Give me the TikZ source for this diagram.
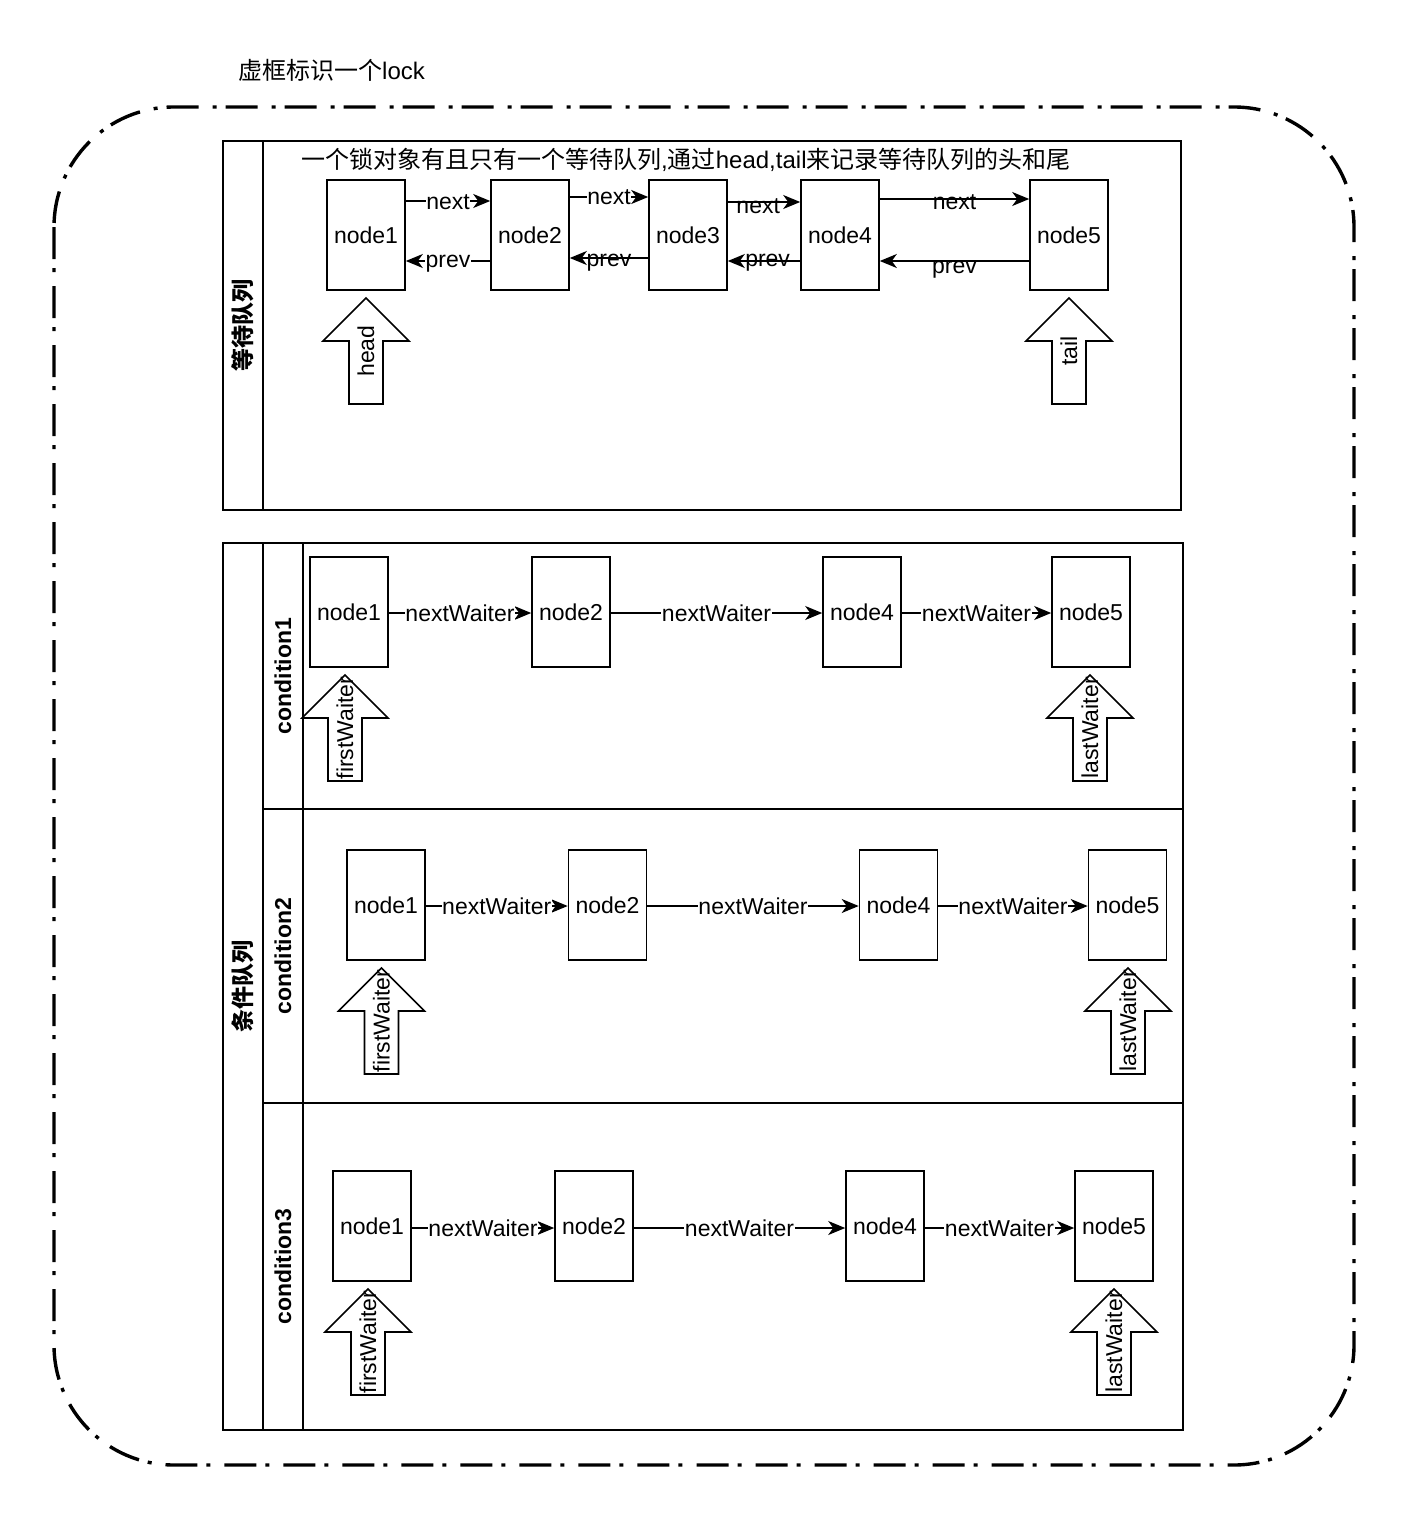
\documentclass[tikz,border=0pt]{standalone}
\usepackage{fontspec}
\setmainfont{Liberation Sans}
\newfontfamily\cjk{Noto Sans CJK SC}
\usetikzlibrary{arrows.meta}
\tikzset{
  txt/.style={font=\fontsize{23}{27}\selectfont, inner sep=1pt},
  cjktxt/.style={font=\fontsize{24}{28}\selectfont, inner sep=1pt},
  nodebox/.style={draw, line width=1.6pt, fill=white, minimum width=78pt, minimum height=110pt, inner sep=0pt, font=\fontsize{23}{27}\selectfont},
  edge/.style={line width=1.6pt, -{Stealth[length=17pt,width=14pt,inset=5pt]}},
  lbl/.style={txt, fill=white, inner sep=0.5pt},
  lblclear/.style={txt, inner sep=0.5pt},
  pool/.style={line width=2.2pt},
  blockarrow/.style={draw, line width=1.6pt, fill=white, line join=miter},
  arrowtext/.style={txt, inner sep=0pt},
  lockframe/.style={line width=3.4pt, rounded corners=120pt, dash pattern=on 32pt off 9pt on 4pt off 14pt},
  headertext/.style={font=\fontsize{23}{27}\selectfont\bfseries, inner sep=0pt},
}
\newcommand\uparw[4]{%
  \draw[blockarrow] (#2,#3) -- (#2+43,#3+43) -- (#2+17,#3+43) -- (#2+17,#3+106) -- (#2-17,#3+106) -- (#2-17,#3+43) -- (#2-43,#3+43) -- cycle;
  \node[arrowtext, rotate=90] (#1) at (#2,#3+53) {#4};}
\begin{document}
\begin{tikzpicture}[x=1pt,y=-1pt]
\useasboundingbox[fill=white] (0,0) rectangle (1406,1518);

% outer lock frame
\draw[lockframe] (54,107) rectangle (1354,1465);
\node[cjktxt, anchor=west] (locktitle) at (237,70) {{\cjk 虚框标识一个}lock};

% ===== wait queue pool =====
\draw[pool] (223,141) rectangle (1181,510);
\draw[pool] (263,141) -- (263,510);
\node[headertext, rotate=90] (waitq) at (243,325.5) {\cjk\bfseries 等待队列};
\node[cjktxt, anchor=west] (waitdesc) at (300,160) {{\cjk 一个锁对象有且只有一个等待队列},{\cjk 通过}head,tail{\cjk 来记录等待队列的头和尾}};

\node[nodebox] (w1) at (366,235) {node1};
\node[nodebox] (w2) at (530,235) {node2};
\node[nodebox] (w3) at (688,235) {node3};
\node[nodebox] (w4) at (840,235) {node4};
\node[nodebox] (w5) at (1069,235) {node5};

\draw[edge] (w1.east |- 0,201) -- node[lbl, yshift=-1pt] (n12) {next} (w2.west |- 0,201);
\draw[edge] (w2.east |- 0,197) -- node[lbl] (n23) {next} (w3.west |- 0,197);
\draw[edge] (w3.east |- 0,202) -- node[lblclear, pos=0.42, yshift=-4pt] (n34) {next} (w4.west |- 0,202);
\draw[edge] (w4.east |- 0,199) -- node[lblclear, yshift=-3pt] (n45) {next} (w5.west |- 0,199);

\draw[edge] (w2.west |- 0,261) -- node[lbl, yshift=-3pt] (p21) {prev} (w1.east |- 0,261);
\draw[edge] (w3.west |- 0,258) -- node[lblclear, yshift=-5pt] (p32) {prev} (w2.east |- 0,258);
\draw[edge] (w4.west |- 0,261) -- node[lblclear, pos=0.45, yshift=-2pt] (p43) {prev} (w3.east |- 0,261);
\draw[edge] (w5.west |- 0,261) -- node[lblclear, yshift=-9pt] (p54) {prev} (w4.east |- 0,261);

\uparw{headarw}{366}{298}{head}
\uparw{tailarw}{1069}{298}{tail}

% ===== condition queue pool =====
\draw[pool] (223,543) rectangle (1183,1430);
\draw[pool] (263,543) -- (263,1430);
\draw[pool] (303,543) -- (303,1430);
\draw[pool] (263,809) -- (1183,809);
\draw[pool] (263,1103) -- (1183,1103);
\node[headertext, rotate=90] (condq) at (243,986.5) {\cjk\bfseries 条件队列};
\node[headertext, rotate=90] (lane1) at (283,676) {condition1};
\node[headertext, rotate=90] (lane2) at (283,956) {condition2};
\node[headertext, rotate=90] (lane3) at (283,1266.5) {condition3};

% condition1
\node[nodebox] (a1) at (349,612) {node1};
\node[nodebox] (a2) at (571,612) {node2};
\node[nodebox] (a4) at (862,612) {node4};
\node[nodebox] (a5) at (1091,612) {node5};
\draw[edge] (a1.east |- 0,613) -- node[lbl] (a12) {nextWaiter} (a2.west |- 0,613);
\draw[edge] (a2.east |- 0,613) -- node[lbl] (a24) {nextWaiter} (a4.west |- 0,613);
\draw[edge] (a4.east |- 0,613) -- node[lbl] (a45) {nextWaiter} (a5.west |- 0,613);
\uparw{afirst}{345}{675}{firstWaiter}
\uparw{alast}{1090}{675}{lastWaiter}

% condition2
\node[nodebox] (b1) at (386,905) {node1};
\node[nodebox] (b2) at (607.5,905) {node2};
\node[nodebox] (b4) at (898.5,905) {node4};
\node[nodebox] (b5) at (1127.5,905) {node5};
\draw[edge] (b1.east |- 0,906) -- node[lbl] (b12) {nextWaiter} (b2.west |- 0,906);
\draw[edge] (b2.east |- 0,906) -- node[lbl] (b24) {nextWaiter} (b4.west |- 0,906);
\draw[edge] (b4.east |- 0,906) -- node[lbl] (b45) {nextWaiter} (b5.west |- 0,906);
\uparw{bfirst}{381.5}{968}{firstWaiter}
\uparw{blast}{1128}{968}{lastWaiter}

% condition3
\node[nodebox] (c1) at (372,1226) {node1};
\node[nodebox] (c2) at (594,1226) {node2};
\node[nodebox] (c4) at (885,1226) {node4};
\node[nodebox] (c5) at (1114,1226) {node5};
\draw[edge] (c1.east |- 0,1228) -- node[lbl] (c12) {nextWaiter} (c2.west |- 0,1228);
\draw[edge] (c2.east |- 0,1228) -- node[lbl] (c24) {nextWaiter} (c4.west |- 0,1228);
\draw[edge] (c4.east |- 0,1228) -- node[lbl] (c45) {nextWaiter} (c5.west |- 0,1228);
\uparw{cfirst}{368}{1289}{firstWaiter}
\uparw{clast}{1114}{1289}{lastWaiter}
\end{tikzpicture}
\end{document}
